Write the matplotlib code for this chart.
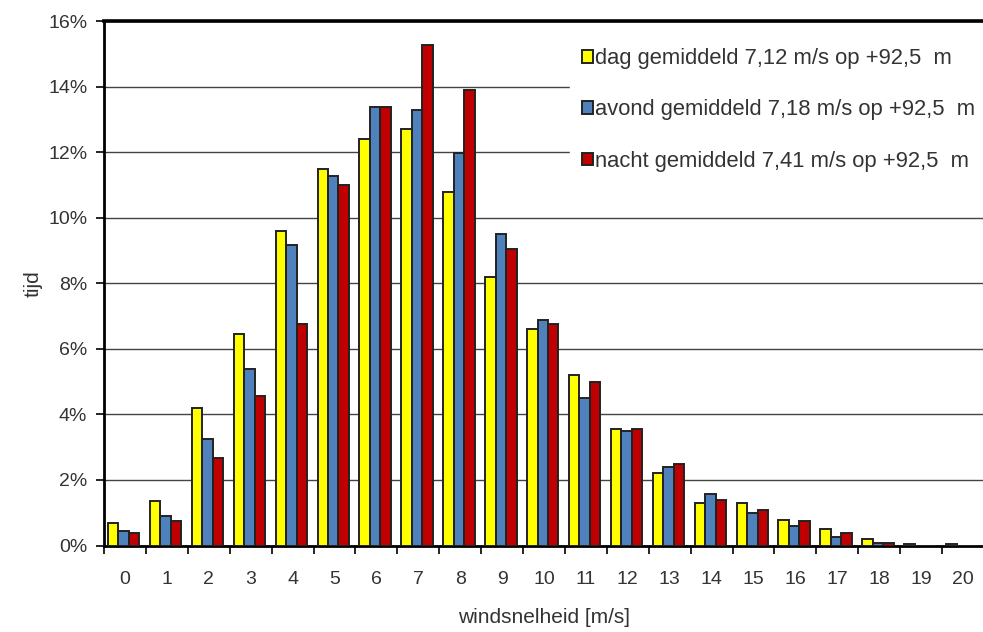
"""Windsnelheid-verdeling dag/avond/nacht op +92,5 m."""

import matplotlib

matplotlib.use("Agg")

import matplotlib.pyplot as plt
import numpy as np
from matplotlib.ticker import FuncFormatter, MultipleLocator

plt.rcParams["font.family"] = ["Liberation Sans", "DejaVu Sans"]

speeds = list(range(0, 21))
dag = [0.68, 1.37, 4.18, 6.46, 9.60, 11.47, 12.39, 12.70, 10.78, 8.20, 6.61,
       5.20, 3.55, 2.20, 1.29, 1.29, 0.79, 0.49, 0.21, 0.05, 0.05]
avond = [0.43, 0.89, 3.25, 5.39, 9.18, 11.26, 13.39, 13.27, 11.98, 9.49, 6.89,
         4.50, 3.49, 2.40, 1.58, 0.98, 0.58, 0.26, 0.08, 0.0, 0.0]
nacht = [0.38, 0.75, 2.66, 4.57, 6.76, 11.00, 13.39, 15.27, 13.90, 9.06, 6.76,
         4.99, 3.56, 2.48, 1.39, 1.07, 0.75, 0.38, 0.07, 0.0, 0.0]
series_labels = [
    "dag gemiddeld 7,12 m/s op +92,5  m",
    "avond gemiddeld 7,18 m/s op +92,5  m",
    "nacht gemiddeld 7,41 m/s op +92,5  m",
]
colors = ["#FFFF00", "#4F81BD", "#C00000"]
text_color = "#333333"


def main() -> None:
    fig = plt.figure(figsize=(9.83, 6.32), dpi=100)
    ax = fig.add_axes([104 / 983, 86.5 / 632, 880 / 983, 524.5 / 632])

    x = np.arange(len(speeds), dtype=float)
    width = 0.25
    for offset, values, color, label in zip([-width, 0.0, width], [dag, avond, nacht], colors, series_labels):
        ax.bar(x + offset - 0.03, values, width=width, color=color, edgecolor="#222222",
               linewidth=1.4, label=label, zorder=3)

    ax.set_xlim(-0.5, len(speeds) - 0.5)
    ax.set_ylim(0, 16)
    ax.yaxis.set_major_locator(MultipleLocator(2))
    ax.yaxis.set_major_formatter(FuncFormatter(lambda v, _: f"{v:.0f}%"))
    ax.grid(axis="y", color="#444444", linewidth=1.0, zorder=0)
    ax.set_axisbelow(True)

    ax.set_xticks(x)
    ax.set_xticklabels([str(s) for s in speeds])
    ax.set_xticks(np.arange(-0.5, len(speeds), 1.0), minor=True)
    ax.tick_params(axis="x", which="major", length=0, pad=18.5, labelsize=14, labelcolor=text_color)
    ax.tick_params(axis="x", which="minor", length=6, width=1.2, direction="out")
    ax.tick_params(axis="y", length=6, width=1.2, pad=6, labelsize=14, labelcolor=text_color)

    for side in ["left", "bottom"]:
        ax.spines[side].set_linewidth(2.0)
    ax.spines["top"].set_linewidth(2.6)
    ax.spines["right"].set_visible(False)

    ax.set_ylabel("tijd", fontsize=15, color=text_color, labelpad=4)
    ax.set_xlabel("windsnelheid [m/s]", fontsize=15, color=text_color, labelpad=14)

    legend = ax.legend(loc="upper left", bbox_to_anchor=(570 / 983, 1 - 36 / 632),
                       bbox_transform=fig.transFigure, frameon=True, fancybox=False,
                       fontsize=15.8, labelspacing=1.38, handlelength=0.5, handleheight=0.5,
                       handletextpad=0.1, borderpad=0.55, borderaxespad=0)
    legend.get_frame().set_facecolor("white")
    legend.get_frame().set_edgecolor("white")
    legend.get_frame().set_alpha(1.0)
    for text in legend.get_texts():
        text.set_color(text_color)

    fig.savefig("out.png", dpi=100)
    plt.close(fig)


if __name__ == "__main__":
    main()
